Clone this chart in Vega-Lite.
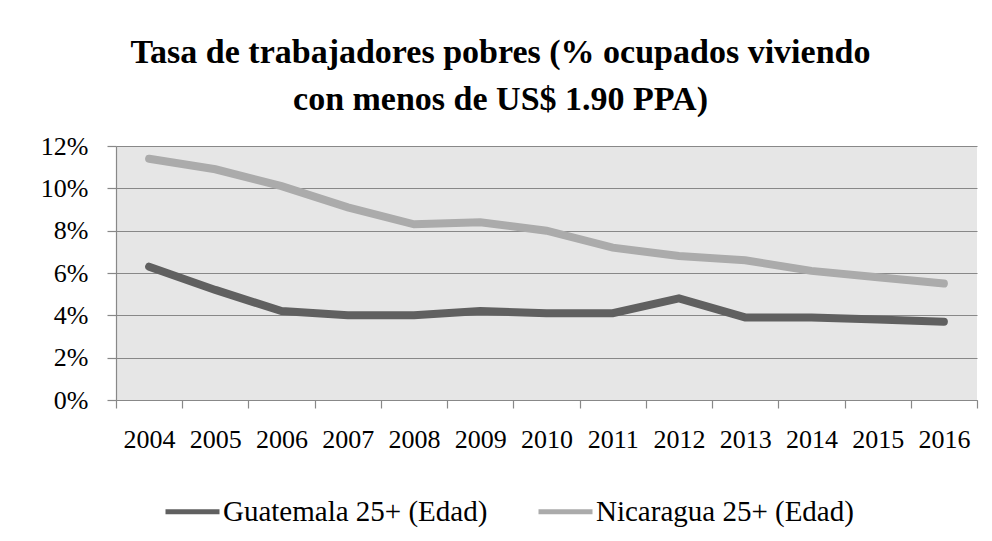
{
  "$schema": "https://vega.github.io/schema/vega-lite/v6.json",
  "width": 861,
  "height": 254,
  "autosize": {"type": "none"},
  "padding": {"left": 116, "top": 146, "right": 15, "bottom": 141},
  "background": "white",
  "config": {
    "view": {"fill": "#e6e6e6", "stroke": null},
    "font": "Liberation Serif",
    "legend": {"labelFont": "Liberation Serif", "labelLimit": 0}
  },
  "title": {
    "text": ["Tasa de trabajadores pobres (% ocupados viviendo", "con menos de US$ 1.90 PPA)"],
    "font": "Liberation Serif",
    "fontSize": 34,
    "fontWeight": "bold",
    "color": "#000000",
    "anchor": "middle",
    "frame": "group",
    "dx": -46,
    "offset": 16,
    "lineHeight": 47
  },
  "data": {
    "values": [
      {"year": "2004", "country": "Guatemala 25+ (Edad)", "value": 0.063},
      {"year": "2005", "country": "Guatemala 25+ (Edad)", "value": 0.052},
      {"year": "2006", "country": "Guatemala 25+ (Edad)", "value": 0.042},
      {"year": "2007", "country": "Guatemala 25+ (Edad)", "value": 0.040},
      {"year": "2008", "country": "Guatemala 25+ (Edad)", "value": 0.040},
      {"year": "2009", "country": "Guatemala 25+ (Edad)", "value": 0.042},
      {"year": "2010", "country": "Guatemala 25+ (Edad)", "value": 0.041},
      {"year": "2011", "country": "Guatemala 25+ (Edad)", "value": 0.041},
      {"year": "2012", "country": "Guatemala 25+ (Edad)", "value": 0.048},
      {"year": "2013", "country": "Guatemala 25+ (Edad)", "value": 0.039},
      {"year": "2014", "country": "Guatemala 25+ (Edad)", "value": 0.039},
      {"year": "2015", "country": "Guatemala 25+ (Edad)", "value": 0.038},
      {"year": "2016", "country": "Guatemala 25+ (Edad)", "value": 0.037},
      {"year": "2004", "country": "Nicaragua 25+ (Edad)", "value": 0.114},
      {"year": "2005", "country": "Nicaragua 25+ (Edad)", "value": 0.109},
      {"year": "2006", "country": "Nicaragua 25+ (Edad)", "value": 0.101},
      {"year": "2007", "country": "Nicaragua 25+ (Edad)", "value": 0.091},
      {"year": "2008", "country": "Nicaragua 25+ (Edad)", "value": 0.083},
      {"year": "2009", "country": "Nicaragua 25+ (Edad)", "value": 0.084},
      {"year": "2010", "country": "Nicaragua 25+ (Edad)", "value": 0.080},
      {"year": "2011", "country": "Nicaragua 25+ (Edad)", "value": 0.072},
      {"year": "2012", "country": "Nicaragua 25+ (Edad)", "value": 0.068},
      {"year": "2013", "country": "Nicaragua 25+ (Edad)", "value": 0.066},
      {"year": "2014", "country": "Nicaragua 25+ (Edad)", "value": 0.061},
      {"year": "2015", "country": "Nicaragua 25+ (Edad)", "value": 0.058},
      {"year": "2016", "country": "Nicaragua 25+ (Edad)", "value": 0.055}
    ]
  },
  "mark": {"type": "line", "strokeWidth": 8, "strokeCap": "round"},
  "encoding": {
    "x": {
      "field": "year",
      "type": "ordinal",
      "scale": {"type": "band", "paddingInner": 0, "paddingOuter": 0},
      "axis": {
        "title": null,
        "labelAngle": 0,
        "tickBand": "extent",
        "grid": false,
        "domainColor": "#888888",
        "domainWidth": 1.2,
        "tickColor": "#888888",
        "tickWidth": 1.2,
        "tickSize": 8,
        "labelPadding": 18,
        "labelFont": "Liberation Serif",
        "labelFontSize": 26,
        "labelColor": "#000000"
      }
    },
    "y": {
      "field": "value",
      "type": "quantitative",
      "scale": {"domain": [0, 0.12], "nice": false},
      "axis": {
        "title": null,
        "values": [0, 0.02, 0.04, 0.06, 0.08, 0.1, 0.12],
        "format": ".0%",
        "grid": true,
        "gridColor": "#888888",
        "gridWidth": 1.2,
        "domainColor": "#888888",
        "domainWidth": 1.2,
        "tickColor": "#888888",
        "tickWidth": 1.2,
        "tickSize": 9,
        "labelPadding": 19,
        "labelFont": "Liberation Serif",
        "labelFontSize": 26,
        "labelColor": "#000000"
      }
    },
    "color": {
      "field": "country",
      "type": "nominal",
      "scale": {
        "domain": ["Guatemala 25+ (Edad)", "Nicaragua 25+ (Edad)"],
        "range": ["#606060", "#ababab"]
      },
      "legend": {
        "title": null,
        "orient": "none",
        "legendX": 47,
        "legendY": 336,
        "direction": "horizontal",
        "symbolType": "stroke",
        "symbolSize": 2916,
        "symbolStrokeWidth": 5,
        "labelFont": "Liberation Serif",
        "labelFontSize": 29,
        "labelLimit": 0,
        "labelColor": "#000000",
        "labelOffset": 1,
        "columnPadding": 40
      }
    }
  }
}
